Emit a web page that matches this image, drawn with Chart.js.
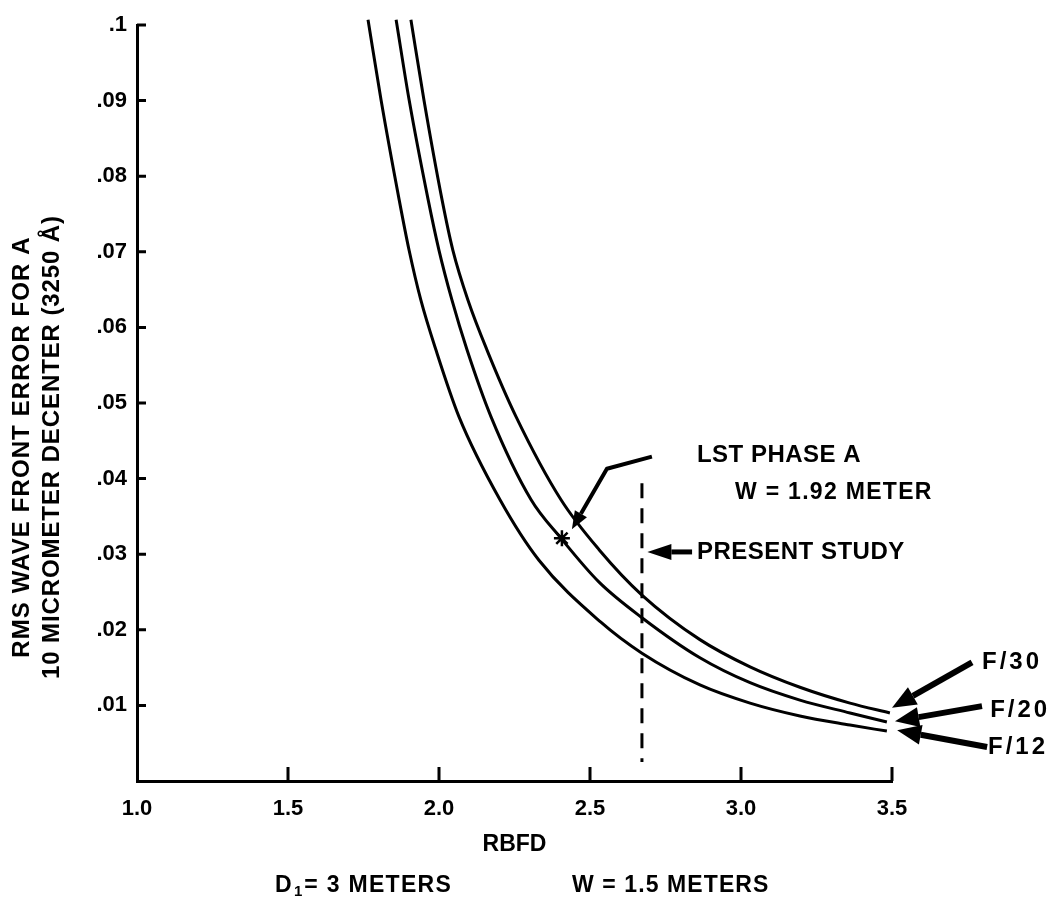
<!DOCTYPE html>
<html lang="en">
<head>
<meta charset="UTF-8">
<title>RMS wave front error vs RBFD</title>
<script src="https://cdn.jsdelivr.net/npm/chart.js@4.4.0/dist/chart.umd.min.js"></script>
<style>
  html, body { margin: 0; padding: 0; background: #fff; }
  canvas { display: block; }
</style>
</head>
<body>
<canvas id="chart" width="1049" height="907"></canvas>
<script>
// values: RBFD on x, RMS wave front error on y
const rbfdF12 = [1.765, 1.808, 1.868, 1.901, 1.940, 1.990, 2.066, 2.202, 2.331, 2.536, 2.672, 2.864, 3.030, 3.195, 3.361, 3.483];
const rmsF12  = [0.1007, 0.0901, 0.0769, 0.0702, 0.0636, 0.0570, 0.0482, 0.0372, 0.0292, 0.0210, 0.0169, 0.0127, 0.0103, 0.0086, 0.0074, 0.0066];

const rbfdF20 = [1.858, 1.901, 1.964, 2.000, 2.043, 2.093, 2.172, 2.305, 2.404, 2.530, 2.672, 2.864, 3.030, 3.195, 3.361, 3.483];
const rmsF20  = [0.1007, 0.0901, 0.0769, 0.0702, 0.0636, 0.0570, 0.0482, 0.0372, 0.0321, 0.0263, 0.0216, 0.0163, 0.0130, 0.0107, 0.0090, 0.0078];

const rbfdF30 = [1.907, 1.950, 2.010, 2.046, 2.096, 2.159, 2.255, 2.404, 2.530, 2.672, 2.864, 3.030, 3.195, 3.361, 3.493];
const rmsF30  = [0.1007, 0.0901, 0.0769, 0.0702, 0.0636, 0.0570, 0.0482, 0.0372, 0.0306, 0.0246, 0.0187, 0.0151, 0.0124, 0.0103, 0.0090];

// LST phase A point and the "present study" marker line
const lstRbfd = [2.407];
const lstRms  = [0.0321];
const studyRbfd = [2.672, 2.672];
const studyRms  = [0.0394, 0.0025];

const xTicks = [1.0, 1.5, 2.0, 2.5, 3.0, 3.5];
const xTickLabels = ['1.0', '1.5', '2.0', '2.5', '3.0', '3.5'];
const yTicks = [0, 0.01, 0.02, 0.03, 0.04, 0.05, 0.06, 0.07, 0.08, 0.09, 0.1];
const yTickLabels = ['', '.01', '.02', '.03', '.04', '.05', '.06', '.07', '.08', '.09', '.1'];

const FONT = '"Liberation Sans", Arial, sans-serif';
const BLACK = '#000';

function pts(xs, ys) {
    return xs.map((x, i) => ({x: x, y: ys[i]}));
}

function curve(xs, ys) {
    return {
        data: pts(xs, ys),
        showLine: true,
        borderColor: BLACK,
        borderWidth: 3,
        pointRadius: 0,
        cubicInterpolationMode: 'monotone',
        clip: false
    };
}

// annotation text, anchored in data units (left edge, vertical middle)
const notes = [
    {text: 'LST PHASE A', x: 2.854, y: 0.0431, size: 24, spacing: 0.5},
    {text: 'W = 1.92 METER', x: 2.980, y: 0.0382, size: 23, spacing: 1.3},
    {text: 'PRESENT STUDY', x: 2.854, y: 0.0303, size: 24, spacing: 0.5},
    {text: 'F/30', x: 3.798, y: 0.0157, size: 24, spacing: 3},
    {text: 'F/20', x: 3.825, y: 0.0094, size: 24, spacing: 3},
    {text: 'F/12', x: 3.818, y: 0.0045, size: 24, spacing: 3}
];

// arrows: polyline in data units, head at the last point
const arrows = [
    {path: [[2.705, 0.0429], [2.556, 0.0413], [2.440, 0.0333]], width: 4, head: 18, half: 7},
    {path: [[2.838, 0.0303], [2.690, 0.0303]], width: 5, head: 24, half: 8},
    {path: [[3.765, 0.0157], [3.500, 0.0097]], width: 6, head: 24, half: 10},
    {path: [[3.798, 0.0099], [3.510, 0.0079]], width: 6, head: 24, half: 10},
    {path: [[3.815, 0.0045], [3.517, 0.0067]], width: 6, head: 24, half: 10}
];

function text(ctx, s, x, y, size, align, spacing) {
    ctx.font = 'bold ' + size + 'px ' + FONT;
    ctx.letterSpacing = (spacing || 0) + 'px';
    ctx.textAlign = align || 'left';
    ctx.textBaseline = 'middle';
    ctx.fillStyle = BLACK;
    ctx.fillText(s, x, y);
}

function drawArrow(ctx, p, a) {
    ctx.strokeStyle = BLACK;
    ctx.fillStyle = BLACK;
    ctx.lineWidth = a.width;
    ctx.lineJoin = 'round';
    const n = p.length;
    const [x0, y0] = p[n - 2];
    const [x1, y1] = p[n - 1];
    const ang = Math.atan2(y1 - y0, x1 - x0);
    const bx = x1 - a.head * Math.cos(ang);
    const by = y1 - a.head * Math.sin(ang);
    ctx.beginPath();
    ctx.moveTo(p[0][0], p[0][1]);
    for (let i = 1; i < n - 1; i++) ctx.lineTo(p[i][0], p[i][1]);
    ctx.lineTo(bx, by);
    ctx.stroke();
    ctx.beginPath();
    ctx.moveTo(x1, y1);
    ctx.lineTo(bx + a.half * Math.sin(ang), by - a.half * Math.cos(ang));
    ctx.lineTo(bx - a.half * Math.sin(ang), by + a.half * Math.cos(ang));
    ctx.closePath();
    ctx.fill();
}

const extras = {
    id: 'extras',
    afterDraw(chart) {
        const ctx = chart.ctx;
        const xs = chart.scales.x, ys = chart.scales.y;
        const area = chart.chartArea;
        ctx.save();

        // inward tick marks
        ctx.strokeStyle = BLACK;
        ctx.lineWidth = 3;
        ctx.beginPath();
        yTicks.forEach(v => {
            if (v === 0) return;
            const py = ys.getPixelForValue(v);
            ctx.moveTo(area.left, py);
            ctx.lineTo(area.left + 9, py);
        });
        xTicks.forEach(v => {
            if (v === xTicks[0]) return;
            const px = xs.getPixelForValue(v);
            ctx.moveTo(px, area.bottom);
            ctx.lineTo(px, area.bottom - 14);
        });
        ctx.stroke();

        // y axis title, two rotated lines
        ctx.save();
        ctx.translate(22, 447);
        ctx.rotate(-Math.PI / 2);
        text(ctx, 'RMS WAVE FRONT ERROR FOR A', 0, 0, 24, 'center', 1.1);
        ctx.restore();
        ctx.save();
        ctx.translate(52, 447);
        ctx.rotate(-Math.PI / 2);
        text(ctx, '10 MICROMETER DECENTER (3250 Å)', 0, 0, 24, 'center', 0.9);
        ctx.restore();

        // annotations
        notes.forEach(n => {
            text(ctx, n.text, xs.getPixelForValue(n.x), ys.getPixelForValue(n.y), n.size, 'left', n.spacing);
        });
        arrows.forEach(a => {
            const p = a.path.map(q => [xs.getPixelForValue(q[0]), ys.getPixelForValue(q[1])]);
            drawArrow(ctx, p, a);
        });

        // footnote: D1 = 3 METERS    W = 1.5 METERS
        const fy = 886;
        let fx = 275;
        text(ctx, 'D', fx, fy, 23, 'left', 1.3);
        fx += ctx.measureText('D').width;
        text(ctx, '1', fx + 1, fy + 6, 15, 'left', 0);
        fx += ctx.measureText('1').width + 3;
        text(ctx, '= 3 METERS', fx, fy, 23, 'left', 1.3);
        text(ctx, 'W = 1.5 METERS', 572, fy, 23, 'left', 1.1);

        ctx.restore();
    }
};

const chart = new Chart(document.getElementById('chart'), {
    type: 'scatter',
    data: {
        datasets: [
            curve(rbfdF12, rmsF12),
            curve(rbfdF20, rmsF20),
            curve(rbfdF30, rmsF30),
            {
                data: pts(studyRbfd, studyRms),
                showLine: true,
                borderColor: BLACK,
                borderWidth: 3,
                borderDash: [15, 10],
                pointRadius: 0
            },
            {
                data: pts(lstRbfd, lstRms),
                pointStyle: 'star',
                pointRadius: 8,
                borderColor: BLACK,
                borderWidth: 2.5,
                backgroundColor: BLACK
            }
        ]
    },
    options: {
        responsive: false,
        animation: false,
        devicePixelRatio: 1,
        layout: {padding: {top: 25, right: 157, left: 0, bottom: 0}},
        plugins: {legend: {display: false}, tooltip: {enabled: false}},
        scales: {
            x: {
                type: 'linear',
                min: 1,
                max: 3.5,
                afterBuildTicks: s => { s.ticks = xTicks.map(v => ({value: v})); },
                afterFit: s => { s.height = 126; },
                ticks: {
                    callback: (v, i) => xTickLabels[i],
                    color: BLACK,
                    padding: 15,
                    maxRotation: 0,
                    font: {family: FONT, size: 22, weight: 'bold'}
                },
                grid: {drawOnChartArea: false, drawTicks: false},
                border: {color: BLACK, width: 3},
                title: {
                    display: true,
                    text: 'RBFD',
                    color: BLACK,
                    padding: {top: 0, bottom: 49},
                    font: {family: FONT, size: 23, weight: 'bold'}
                }
            },
            y: {
                min: 0,
                max: 0.1,
                afterBuildTicks: s => { s.ticks = yTicks.map(v => ({value: v})); },
                afterFit: s => { s.width = 137; },
                ticks: {
                    callback: (v, i) => yTickLabels[i],
                    color: BLACK,
                    padding: 10,
                    font: {family: FONT, size: 22, weight: 'bold'}
                },
                grid: {drawOnChartArea: false, drawTicks: false},
                border: {color: BLACK, width: 3}
            }
        }
    },
    plugins: [extras]
});
</script>
</body>
</html>
